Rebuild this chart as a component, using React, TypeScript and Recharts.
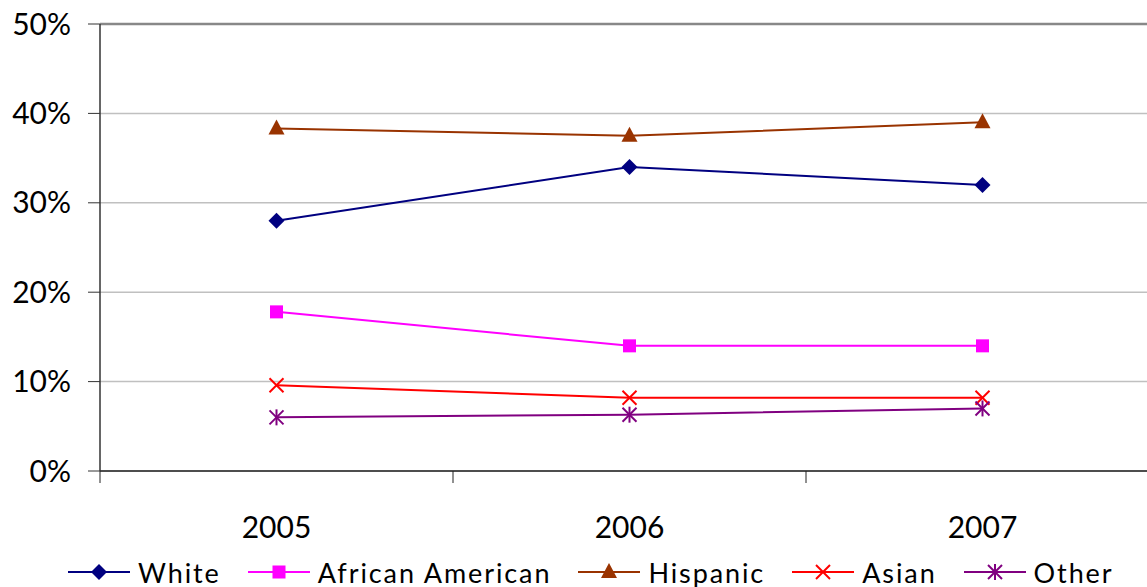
import React from 'react';
import { LineChart, Line, XAxis, YAxis, CartesianGrid, Legend, ReferenceLine } from 'recharts';

const years = ['2005', '2006', '2007'];
const white = [28, 34, 32];
const africanAmerican = [17.8, 14, 14];
const hispanic = [38.3, 37.5, 39];
const asian = [9.6, 8.2, 8.2];
const other = [6.0, 6.3, 7.0];
const yTicks = [0, 10, 20, 30, 40, 50];
const xTicks = [0, 0.5, 1, 1.5, 2, 2.5, 3];

const data = years.map((y, i) => ({
  year: y,
  idx: i + 0.5,
  white: white[i],
  aa: africanAmerican[i],
  hispanic: hispanic[i],
  asian: asian[i],
  other: other[i],
}));

const FONT = 'Lato, "DejaVu Sans", sans-serif';

type Shape = 'diamond' | 'square' | 'triangle' | 'x' | 'star';

const Marker = ({ cx, cy, shape, color }: { cx: number; cy: number; shape: Shape; color: string }) => {
  switch (shape) {
    case 'diamond':
      return <polygon points={`${cx},${cy - 8} ${cx + 8},${cy} ${cx},${cy + 8} ${cx - 8},${cy}`} fill={color} />;
    case 'square':
      return <rect x={cx - 6.5} y={cy - 6.5} width={13} height={13} fill={color} />;
    case 'triangle':
      return <polygon points={`${cx},${cy - 9} ${cx + 8},${cy + 6} ${cx - 8},${cy + 6}`} fill={color} />;
    case 'x':
      return (
        <g stroke={color} strokeWidth={2}>
          <line x1={cx - 7} y1={cy - 7} x2={cx + 7} y2={cy + 7} />
          <line x1={cx - 7} y1={cy + 7} x2={cx + 7} y2={cy - 7} />
        </g>
      );
    case 'star':
      return (
        <g stroke={color} strokeWidth={2}>
          <line x1={cx - 7} y1={cy - 7} x2={cx + 7} y2={cy + 7} />
          <line x1={cx - 7} y1={cy + 7} x2={cx + 7} y2={cy - 7} />
          <line x1={cx} y1={cy - 8} x2={cx} y2={cy + 8} />
        </g>
      );
  }
  return null;
};

const series: { key: string; name: string; color: string; shape: Shape }[] = [
  { key: 'white', name: 'White', color: '#000080', shape: 'diamond' },
  { key: 'aa', name: 'African American', color: '#FF00FF', shape: 'square' },
  { key: 'hispanic', name: 'Hispanic', color: '#993300', shape: 'triangle' },
  { key: 'asian', name: 'Asian', color: '#FF0000', shape: 'x' },
  { key: 'other', name: 'Other', color: '#800080', shape: 'star' },
];

const XTick = (props: any) => {
  const { x, y, payload } = props;
  const v = payload.value as number;
  if (Math.abs(v - Math.round(v)) < 1e-6) {
    return <line x1={x} y1={y} x2={x} y2={y + 12} stroke="#222" strokeWidth={1} />;
  }
  return (
    <text x={x} y={y + 67} textAnchor="middle" fontSize={30} fontFamily={FONT} fill="#000">
      {years[Math.floor(v)]}
    </text>
  );
};

const LegendContent = () => (
  <div style={{ height: 36, width: 1147, position: 'relative' }}>
    <div
      style={{
        position: 'absolute',
        bottom: -3,
        left: 68,
        height: 36,
        display: 'flex',
        alignItems: 'center',
        gap: 27,
        fontFamily: FONT,
        fontSize: 27,
        color: '#000',
        whiteSpace: 'nowrap',
      }}
    >
      {series.map((s) => (
        <div key={s.key} style={{ display: 'flex', alignItems: 'center' }}>
          <svg width={62} height={24} style={{ marginRight: 8 }}>
            <line x1={0} y1={12} x2={62} y2={12} stroke={s.color} strokeWidth={2} />
            <Marker cx={31} cy={12} shape={s.shape} color={s.color} />
          </svg>
          <span style={{ letterSpacing: 1.9 }}>{s.name}</span>
        </div>
      ))}
    </div>
  </div>
);

export default function App() {
  return (
    <div style={{ position: 'fixed', left: 0, top: 0, width: 1147, height: 587, overflow: 'hidden', background: '#fff' }}>
      <LineChart width={1159} height={587} data={data} margin={{ top: 24, right: 0, bottom: 0, left: 0 }}>
        <CartesianGrid horizontal vertical={false} stroke="#c0c0c0" strokeWidth={1.5} />
        <XAxis
          type="number"
          dataKey="idx"
          domain={[0, 3]}
          ticks={xTicks}
          interval={0}
          height={80}
          tickSize={0}
          tickMargin={0}
          tick={<XTick />}
          tickLine={false}
          axisLine={{ stroke: '#222', strokeWidth: 1.5 }}
        />
        <YAxis
          width={100}
          domain={[0, 50]}
          ticks={yTicks}
          tickFormatter={(v: number) => `${v}%`}
          tickSize={12}
          tickMargin={17}
          axisLine={{ stroke: '#333', strokeWidth: 1.5 }}
          tickLine={{ stroke: '#333', strokeWidth: 1 }}
          tick={{ fontSize: 30, fill: '#000', fontFamily: FONT }}
        />
        <ReferenceLine y={50} stroke="#888" strokeWidth={2.5} />
        {series.map((s) => (
          <Line
            key={s.key}
            dataKey={s.key}
            name={s.name}
            stroke={s.color}
            strokeWidth={2}
            isAnimationActive={false}
            dot={(p: any) => (
              <g key={`${s.key}-${p.index}`}>
                <Marker cx={p.cx} cy={p.cy} shape={s.shape} color={s.color} />
              </g>
            )}
            activeDot={false}
          />
        ))}
        <Legend verticalAlign="bottom" content={<LegendContent />} wrapperStyle={{ left: 0, width: 1147 }} />
      </LineChart>
    </div>
  );
}
